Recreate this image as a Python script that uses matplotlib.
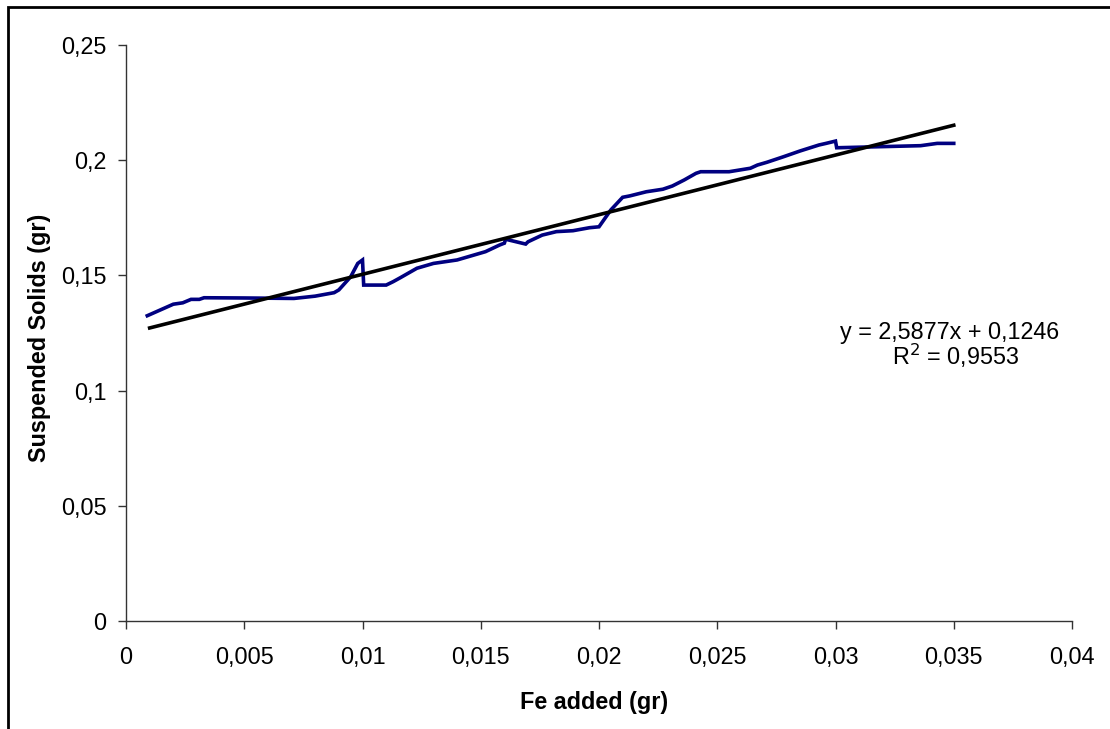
import matplotlib
matplotlib.use("Agg")
import matplotlib.pyplot as plt
from matplotlib.patches import Rectangle
from matplotlib.ticker import FuncFormatter

plt.rcParams['font.family'] = ['Liberation Sans', 'DejaVu Sans']

# Measured suspended solids vs iron dose
fe_added = [0.0009, 0.0020, 0.0024, 0.00275, 0.0031, 0.0033, 0.0050, 0.0071,
            0.0080, 0.0088, 0.0090, 0.0095, 0.0098, 0.0100, 0.01005, 0.0110,
            0.0113, 0.0116, 0.0123, 0.0130, 0.0140, 0.0152, 0.0158, 0.0160,
            0.01605, 0.0169, 0.0170, 0.0176, 0.0182, 0.0189, 0.0196, 0.0200,
            0.0205, 0.0210, 0.0213, 0.0220, 0.0227, 0.0231, 0.0236, 0.0241,
            0.0243, 0.0255, 0.0264, 0.0267, 0.0271, 0.0278, 0.0285, 0.0293,
            0.0296, 0.0300, 0.03005, 0.0336, 0.0343, 0.0350]
solids = [0.1325, 0.1375, 0.1381, 0.1396, 0.1396, 0.1403, 0.1402, 0.1400,
          0.1410, 0.1425, 0.1437, 0.1494, 0.1552, 0.1567, 0.1458, 0.1458,
          0.1473, 0.1490, 0.1531, 0.1552, 0.1567, 0.1603, 0.1632, 0.1640,
          0.1657, 0.1636, 0.1646, 0.1675, 0.1690, 0.1694, 0.1707, 0.1711,
          0.1784, 0.1839, 0.1845, 0.1863, 0.1874, 0.1888, 0.1914, 0.1943,
          0.1950, 0.1950, 0.1965, 0.1979, 0.1991, 0.2015, 0.2040, 0.2066,
          0.2073, 0.2083, 0.2054, 0.2063, 0.2073, 0.2073]

# Linear trend line
slope = 2.5877
intercept = 0.1246
r2 = 0.9553
trend_x = [0.001, 0.035]
trend_y = [slope * v + intercept for v in trend_x]

FS = 16.8

fig = plt.figure(figsize=(11.1, 7.29), dpi=100)
ax = fig.add_axes([126 / 1110, 1 - 621 / 729, (1072 - 126) / 1110, (621 - 45) / 729])

ax.plot(fe_added, solids, color='#000080', lw=2.6, solid_joinstyle='miter')
ax.plot(trend_x, trend_y, color='black', lw=2.6)

ax.set_xlim(0, 0.04)
ax.set_ylim(0, 0.25)
ax.set_xticks([0, 0.005, 0.01, 0.015, 0.02, 0.025, 0.03, 0.035, 0.04])
ax.set_yticks([0, 0.05, 0.1, 0.15, 0.2, 0.25])


def comma_fmt(v, pos):
    s = ('%.3f' % v).rstrip('0').rstrip('.')
    return s.replace('.', ',')


ax.xaxis.set_major_formatter(FuncFormatter(comma_fmt))
ax.yaxis.set_major_formatter(FuncFormatter(comma_fmt))
ax.tick_params(labelsize=FS, length=6, width=1, color='#333333', pad=8)
ax.tick_params(axis='x', pad=12)

for side in ['top', 'right']:
    ax.spines[side].set_visible(False)
for side in ['left', 'bottom']:
    ax.spines[side].set_color('#333333')
    ax.spines[side].set_linewidth(1)

ax.set_xlabel('Fe added (gr)', fontsize=FS, fontweight='bold', va='center')
ax.set_ylabel('Suspended Solids (gr)', fontsize=FS, fontweight='bold', va='center')
ax.xaxis.set_label_coords((594 - 126) / 946, (621 - 703) / 576)
ax.yaxis.set_label_coords((40 - 126) / 946, (621 - 338) / 576)

eq = 'y = %s' % ('%.4f' % slope).replace('.', ',') + 'x + ' + ('%.4f' % intercept).replace('.', ',')
fig.text(950 / 1110, 1 - 333 / 729, eq, fontsize=FS, ha='center', va='center')
fig.text(956 / 1110, 1 - 356 / 729, 'R$^2$ = ' + ('%.4f' % r2).replace('.', ','),
         fontsize=FS, ha='center', va='center')

# Chart area frame
fig.patches.append(Rectangle((8 / 1110, -0.1), 1.2, 1 - 7 / 729 + 0.1,
                             transform=fig.transFigure, fill=False,
                             edgecolor='black', lw=2))

fig.savefig('out.png', dpi=100)
